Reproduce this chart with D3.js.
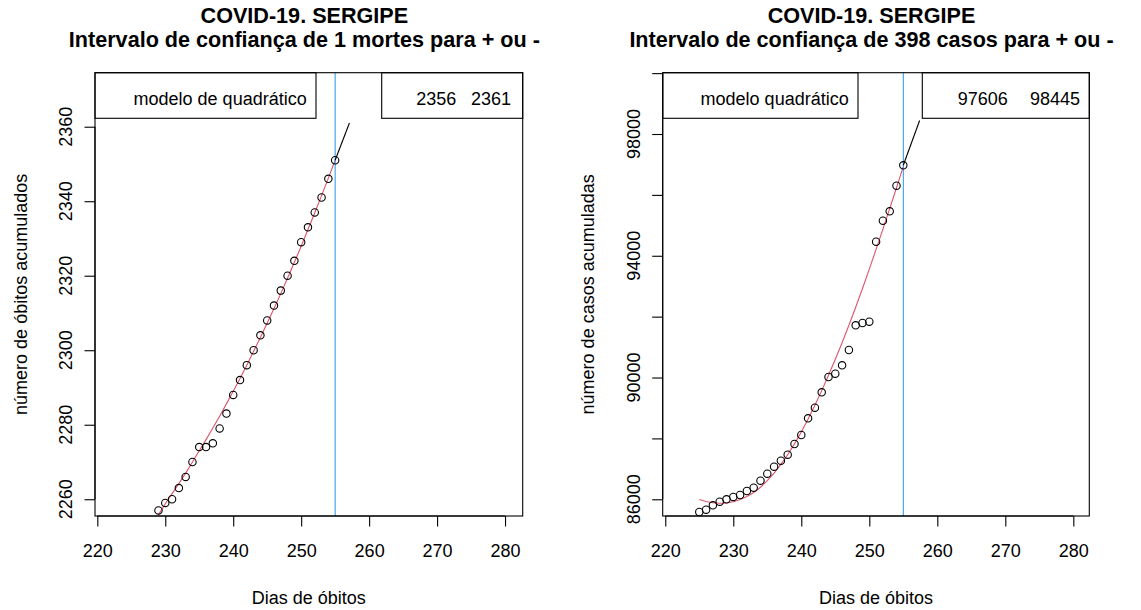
<!DOCTYPE html>
<meta charset="utf-8">
<script src="https://d3js.org/d3.v7.min.js"></script>
<style>
    body {margin: 0; background: #fff;}
    svg {font-family: 'Liberation Sans', Arial, Helvetica, sans-serif; display: block;}
</style>
<body>
<svg width="1141" height="610"></svg>
<script>
    // dados
    const diasObitos = [229,230,231,232,233,234,235,236,237,238,239,240,241,242,243,244,245,246,247,248,249,250,251,252,253,254,255];
    const obitos = [2257,2259,2260,2263,2266,2270,2274,2274,2275,2279,2283,2288,2292,2296,2300,2304,2308,2312,2316,2320,2324,2329,2333,2337,2341,2346,2351];
    const obitosAjuste = [2255.8,2258.8,2261.5,2264.2,2267,2270,2273,2276,2279.1,2282.3,2285.6,2289,2292.4,2296,2299.7,2303.4,2307.3,2311.2,2315.2,2319.4,2323.6,2327.9,2332.4,2336.9,2341.5,2346.2,2351];

    const diasCasos = [225,226,227,228,229,230,231,232,233,234,235,236,237,238,239,240,241,242,243,244,245,246,247,248,249,250,251,252,253,254,255];
    const casos = [85583,85658,85803,85921,86000,86076,86141,86273,86381,86611,86841,87071,87268,87465,87817,88112,88661,89009,89515,90017,90126,90402,90904,91716,91792,91834,94462,95152,95461,96302,96972];
    const casosAjuste = [85990,85925,85885,85870,85880,85920,85990,86090,86225,86395,86610,86860,87145,87465,87820,88210,88635,89090,89570,90075,90600,91145,91715,92310,92925,93560,94210,94875,95550,96235,96930];

    const xTicks = [220,230,240,250,260,270,280];
    const obitosTicks = [2260,2280,2300,2320,2340,2360];
    const casosTicks = [86000,88000,90000,92000,94000,96000,98000,100000];
    const casosTickLabels = [86000,90000,94000,98000];

    const diaCorte = 255;
    const intervaloObitos = [2356, 2361];
    const intervaloCasos = [97606, 98445];
    const projObitos = [[255, 2351], [257.1, 2361]];
    const projCasos = [[255, 96972], [257.4, 98445]];

    const svg = d3.select("svg");
    svg.append("rect").attr("width", 1141).attr("height", 610).attr("fill", "#fff");

    const RED = "#DF536B", BLUE = "#2297E6";

    function painel(cfg) {
        const g = svg.append("g");
        const L = cfg.box[0], R = cfg.box[1], T = 72.7, B = 516;
        const x = d3.scaleLinear().domain(cfg.xdom).range([L, R]);
        const y = d3.scaleLinear().domain(cfg.ydom).range([B, T]);
        const cx = (L + R) / 2;

        // titulo
        g.append("text").attr("x", cx - 4.5).attr("y", 22.7)
            .attr("text-anchor", "middle").attr("font-weight", "bold").attr("font-size", 21.6)
            .text("COVID-19. SERGIPE");
        g.append("text").attr("x", cx - 4.5).attr("y", 46.5)
            .attr("text-anchor", "middle").attr("font-weight", "bold").attr("font-size", 21.6)
            .text(cfg.titulo);

        const clip = "clip" + cfg.id;
        g.append("clipPath").attr("id", clip).append("rect")
            .attr("x", L).attr("y", T).attr("width", R - L).attr("height", B - T);
        const plot = g.append("g").attr("clip-path", "url(#" + clip + ")");

        // ajuste
        plot.append("path")
            .datum(cfg.dias.map((d, i) => [d, cfg.ajuste[i]]))
            .attr("fill", "none").attr("stroke", RED).attr("stroke-width", 1.1)
            .attr("d", d3.line().x(d => x(d[0])).y(d => y(d[1])));

        // linha vertical
        plot.append("line")
            .attr("x1", x(diaCorte)).attr("x2", x(diaCorte))
            .attr("y1", T).attr("y2", B)
            .attr("stroke", BLUE).attr("stroke-width", 1);

        // projecao
        plot.append("path")
            .datum(cfg.proj)
            .attr("fill", "none").attr("stroke", "#000").attr("stroke-width", 1.1)
            .attr("d", d3.line().x(d => x(d[0])).y(d => y(d[1])));

        // pontos
        plot.selectAll("circle")
            .data(cfg.dias.map((d, i) => [d, cfg.valores[i]]))
            .enter().append("circle")
            .attr("cx", d => x(d[0])).attr("cy", d => y(d[1]))
            .attr("r", 3.7).attr("fill", "none").attr("stroke", "#000").attr("stroke-width", 1.1);

        // legendas
        g.append("rect").attr("x", L).attr("y", T).attr("width", cfg.leg1 - L).attr("height", 118.3 - T)
            .attr("fill", "#fff").attr("stroke", "#000").attr("stroke-width", 1.1);
        g.append("text").attr("x", cfg.leg1 - 9.3).attr("y", 105)
            .attr("text-anchor", "end").attr("font-size", 18).text(cfg.modelo);
        g.append("rect").attr("x", cfg.leg2).attr("y", T).attr("width", R - cfg.leg2).attr("height", 118.3 - T)
            .attr("fill", "#fff").attr("stroke", "#000").attr("stroke-width", 1.1);
        g.selectAll(".ic")
            .data(cfg.intervalo)
            .enter().append("text")
            .attr("x", (d, i) => cfg.icEnd[i]).attr("y", 105)
            .attr("text-anchor", "end").attr("font-size", 18).text(d => d);

        // caixa
        g.append("rect").attr("x", L).attr("y", T).attr("width", R - L).attr("height", B - T)
            .attr("fill", "none").attr("stroke", "#000").attr("stroke-width", 1.1);

        // eixo x
        const ax = g.append("g").attr("transform", "translate(0," + B + ")")
            .call(d3.axisBottom(x).tickValues(xTicks).tickSize(10.5).tickSizeOuter(0).tickPadding(0));
        ax.select(".domain").attr("d", "M" + x(xTicks[0]) + ",0H" + x(xTicks[xTicks.length - 1])).attr("stroke-width", 1.1);
        ax.selectAll(".tick line").attr("stroke-width", 1.1);
        ax.selectAll(".tick text").attr("font-size", 18).attr("font-family", null)
            .attr("dy", null).attr("y", 41);

        // eixo y
        const ay = g.append("g").attr("transform", "translate(" + L + ",0)")
            .call(d3.axisLeft(y).tickValues(cfg.yTicks).tickSize(10.5).tickSizeOuter(0).tickFormat(""));
        ay.select(".domain").attr("stroke-width", 1.1)
            .attr("d", "M0," + y(cfg.yTicks[0]) + "V" + y(cfg.yTicks[cfg.yTicks.length - 1]));
        ay.selectAll(".tick line").attr("stroke-width", 1.1);
        g.selectAll(".ylab")
            .data(cfg.yLabels)
            .enter().append("text")
            .attr("transform", d => "translate(" + (L - 23) + "," + y(d) + ") rotate(-90)")
            .attr("text-anchor", "middle").attr("font-size", 18).text(d => d);

        // rotulos
        g.append("text").attr("x", cx).attr("y", 603.5)
            .attr("text-anchor", "middle").attr("font-size", 18).text("Dias de óbitos");
        g.append("text")
            .attr("transform", "translate(" + (L - 68.3) + "," + ((T + B) / 2) + ") rotate(-90)")
            .attr("text-anchor", "middle").attr("font-size", 18).text(cfg.ylab);
    }

    painel({
        id: "ob", box: [95, 522.7], xdom: [219.66, 282.6], ydom: [2255.5, 2374.5],
        titulo: "Intervalo de confiança de 1 mortes para + ou -",
        dias: diasObitos, valores: obitos, ajuste: obitosAjuste, proj: projObitos,
        yTicks: obitosTicks, yLabels: obitosTicks,
        modelo: "modelo de quadrático", leg1: 316, leg2: 381.7,
        intervalo: intervaloObitos, icEnd: [456.3, 511],
        ylab: "número de óbitos acumulados"
    });

    painel({
        id: "ca", box: [662.7, 1089.3], xdom: [219.62, 282.35], ydom: [85451, 100014],
        titulo: "Intervalo de confiança de 398 casos para + ou -",
        dias: diasCasos, valores: casos, ajuste: casosAjuste, proj: projCasos,
        yTicks: casosTicks, yLabels: casosTickLabels,
        modelo: "modelo quadrático", leg1: 858, leg2: 922.3,
        intervalo: intervaloCasos, icEnd: [1007.7, 1080],
        ylab: "número de casos acumuladas"
    });
</script>
</body>
